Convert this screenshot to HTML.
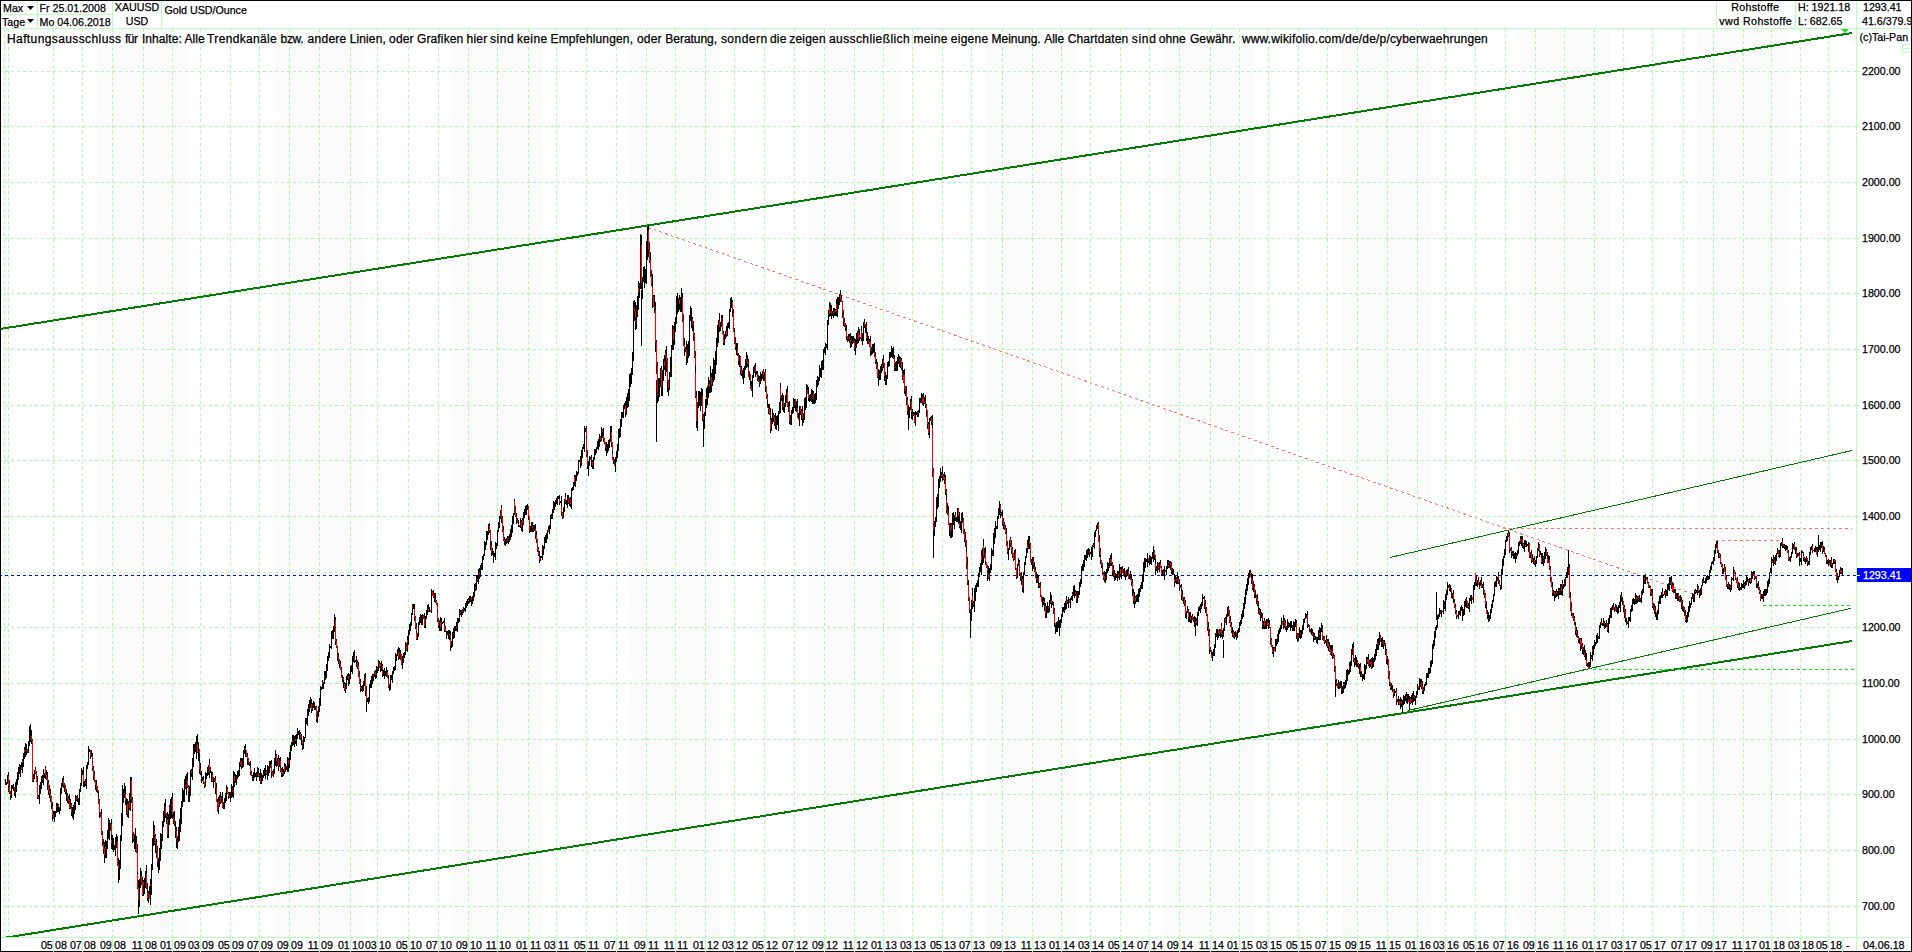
<!DOCTYPE html><html><head><meta charset="utf-8"><title>Gold USD/Ounce</title>
<style>html,body{margin:0;padding:0;background:#fff}body{width:1912px;height:952px;overflow:hidden}svg{display:block}text{font-family:"Liberation Sans",Arial,sans-serif;font-size:10.67px;fill:#000;stroke:#000;stroke-width:.25px}.b{font-size:12px}.w{fill:#fff;stroke:#fff}</style></head><body>
<svg width="1912" height="952" viewBox="0 0 1912 952">
<rect width="1912" height="952" fill="#fff"/>
<g fill="#fbfbfb" shape-rendering="crispEdges">
<rect x="3" y="29" width="6" height="908"/>
<rect x="97" y="29" width="90" height="908"/>
<rect x="275" y="29" width="89" height="908"/>
<rect x="452" y="29" width="90" height="908"/>
<rect x="629" y="29" width="91" height="908"/>
<rect x="808" y="29" width="91" height="908"/>
<rect x="986" y="29" width="90" height="908"/>
<rect x="1164" y="29" width="90" height="908"/>
<rect x="1342" y="29" width="89" height="908"/>
<rect x="1519" y="29" width="91" height="908"/>
<rect x="1697" y="29" width="90" height="908"/>
</g>
<g stroke="#a6ffa6" stroke-width="1" stroke-dasharray="3 3" shape-rendering="crispEdges" fill="none">
<path d="M4.5 29V937M8.5 29V937M53.5 29V937M82.5 29V937M112.5 29V937M143.5 29V937M172.5 29V937M200.5 29V937M230.5 29V937M259.5 29V937M289.5 29V937M319.5 29V937M350.5 29V937M377.5 29V937M408.5 29V937M438.5 29V937M468.5 29V937M497.5 29V937M528.5 29V937M556.5 29V937M586.5 29V937M616.5 29V937M646.5 29V937M675.5 29V937M705.5 29V937M734.5 29V937M764.5 29V937M794.5 29V937M824.5 29V937M854.5 29V937M883.5 29V937M912.5 29V937M942.5 29V937M971.5 29V937M1002.5 29V937M1032.5 29V937M1061.5 29V937M1090.5 29V937M1120.5 29V937M1149.5 29V937M1179.5 29V937M1210.5 29V937M1239.5 29V937M1268.5 29V937M1298.5 29V937M1327.5 29V937M1357.5 29V937M1387.5 29V937M1417.5 29V937M1445.5 29V937M1475.5 29V937M1505.5 29V937M1535.5 29V937M1564.5 29V937M1594.5 29V937M1623.5 29V937M1652.5 29V937M1683.5 29V937M1713.5 29V937M1743.5 29V937M1771.5 29V937M1800.5 29V937M1828.5 29V937"/>
<path d="M1 71.5H1856M1 126.5H1856M1 182.5H1856M1 238.5H1856M1 293.5H1856M1 349.5H1856M1 405.5H1856M1 460.5H1856M1 516.5H1856M1 572.5H1856M1 627.5H1856M1 683.5H1856M1 739.5H1856M1 794.5H1856M1 850.5H1856M1 906.5H1856" stroke-dashoffset="2"/>
</g>
<g stroke="#b9ffb9" stroke-width="1" shape-rendering="crispEdges" fill="none">
<path d="M1 28.5H1911M1 937.5H1911M1856.5 1V951M37.5 1V28M112.5 1V28M161.5 1V28M1 14.5H112M1716.5 1V28M1795.5 1V28M53.5 935V938M82.5 935V938M112.5 935V938M143.5 935V938M172.5 935V938M200.5 935V938M230.5 935V938M259.5 935V938M289.5 935V938M319.5 935V938M350.5 935V938M377.5 935V938M408.5 935V938M438.5 935V938M468.5 935V938M497.5 935V938M528.5 935V938M556.5 935V938M586.5 935V938M616.5 935V938M646.5 935V938M675.5 935V938M705.5 935V938M734.5 935V938M764.5 935V938M794.5 935V938M824.5 935V938M854.5 935V938M883.5 935V938M912.5 935V938M942.5 935V938M971.5 935V938M1002.5 935V938M1032.5 935V938M1061.5 935V938M1090.5 935V938M1120.5 935V938M1149.5 935V938M1179.5 935V938M1210.5 935V938M1239.5 935V938M1268.5 935V938M1298.5 935V938M1327.5 935V938M1357.5 935V938M1387.5 935V938M1417.5 935V938M1445.5 935V938M1475.5 935V938M1505.5 935V938M1535.5 935V938M1564.5 935V938M1594.5 935V938M1623.5 935V938M1652.5 935V938M1683.5 935V938M1713.5 935V938M1743.5 935V938M1771.5 935V938M1800.5 935V938M1828.5 935V938M1857 71.5H1860M1857 126.5H1860M1857 182.5H1860M1857 238.5H1860M1857 293.5H1860M1857 349.5H1860M1857 405.5H1860M1857 460.5H1860M1857 516.5H1860M1857 572.5H1860M1857 627.5H1860M1857 683.5H1860M1857 739.5H1860M1857 794.5H1860M1857 850.5H1860M1857 906.5H1860"/>
<rect x="1902.5" y="44.5" width="9" height="8" />
<path d="M1904 48.5H1910"/>
</g>
<path d="M1697 547.5L1788 515.5M1697 630.5L1787 597.5M1568 592.5L1620 575.5" stroke="#fff" stroke-width="1" fill="none" shape-rendering="crispEdges"/>
<clipPath id="cp"><rect x="0" y="29" width="1857" height="908"/></clipPath>
<g shape-rendering="crispEdges" fill="none" clip-path="url(#cp)">
<path d="M0 329L1852 33M5 937.75L1852 641" stroke="#007e00" stroke-width="2"/>
<path d="M1390 557.5L1852 450.5M1408 710.5L1851 608.3" stroke="#007e00" stroke-width="1"/>
<path d="M648 227.5L1694 594.5M1503 528.5H1852M1716 540.5H1782" stroke="#ff7474" stroke-width="1" stroke-dasharray="3 3"/>
<path d="M1850 605.5H1762M1854 669.5H1590" stroke="#00ee00" stroke-width="1" stroke-dasharray="3 3"/>
<path d="M1 575.5H1857" stroke="#0000ff" stroke-width="1" stroke-dasharray="3 3" stroke-dashoffset="2"/>
</g>
<path d="M1841 29h8l-4 4z" fill="#33cc33"/>
<g shape-rendering="crispEdges" fill="none" stroke-width="1">
<path d="M5.5 779V785M6.5 782V785M7.5 775V784M8.5 772V776M8.5 786V792M9.5 780V787M9.5 793V794M10.5 791V793M10.5 795V800M11.5 785V798M12.5 785V789M13.5 784V787M13.5 788V791M14.5 787V788M14.5 793V796M15.5 782V798M16.5 779V792M17.5 772V785M18.5 767V780M19.5 764V774M20.5 765V777M21.5 762V767M21.5 769V770M22.5 759V761M22.5 763V773M23.5 753V767M24.5 747V750M24.5 752V759M25.5 743V757M26.5 744V755M27.5 749V750M27.5 752V753M28.5 741V753M29.5 726V746M30.5 724V742M31.5 730V736M31.5 740V744M32.5 739V740M32.5 761V762M32.5 781V782M33.5 774V782M34.5 770V779M35.5 767V770M35.5 773V774M36.5 771V773M36.5 781V782M37.5 776V781M37.5 797V799M38.5 795V797M38.5 798V799M39.5 785V804M40.5 782V794M41.5 776V789M42.5 775V778M42.5 779V783M43.5 769V774M43.5 775V785M44.5 773V778M45.5 766V768M45.5 775V779M46.5 770V775M46.5 778V780M47.5 772V778M47.5 782V790M48.5 780V783M48.5 790V795M49.5 785V790M49.5 794V798M50.5 789V794M50.5 797V802M51.5 796V797M51.5 804V809M52.5 802V806M52.5 815V821M53.5 811V815M53.5 818V819M54.5 811V822M55.5 811V817M56.5 803V806M56.5 807V813M57.5 803V812M58.5 804V805M58.5 807V812M59.5 807V814M60.5 788V811M61.5 783V794M62.5 778V787M63.5 776V780M63.5 785V788M64.5 783V785M64.5 786V792M65.5 785V786M65.5 792V794M66.5 789V801M67.5 793V796M67.5 799V803M68.5 796V799M68.5 801V804M69.5 794V800M69.5 808V809M70.5 799V809M71.5 803V804M71.5 807V808M71.5 812V816M72.5 807V818M73.5 805V820M74.5 802V814M75.5 795V810M76.5 796V797M76.5 799V801M77.5 795V798M77.5 799V802M78.5 798V805M79.5 789V805M80.5 783V792M81.5 768V773M81.5 774V786M82.5 770V775M83.5 767V774M83.5 782V787M84.5 781V787M85.5 779V782M85.5 784V786M86.5 765V789M87.5 762V769M88.5 746V765M89.5 749V752M90.5 750V751M90.5 754V755M90.5 756V759M91.5 750V757M92.5 753V756M92.5 761V763M92.5 768V771M93.5 766V768M93.5 775V780M94.5 771V775M94.5 781V782M95.5 780V781M95.5 785V790M96.5 780V785M96.5 788V792M97.5 786V788M97.5 791V793M98.5 790V791M98.5 792V798M98.5 801V804M99.5 799V801M99.5 813V818M100.5 812V813M100.5 814V817M101.5 809V814M101.5 833V835M102.5 831V833M102.5 843V846M103.5 839V844M103.5 849V854M104.5 842V849M104.5 855V863M105.5 840V847M105.5 849V858M106.5 841V858M107.5 830V849M108.5 818V839M109.5 820V840M110.5 823V831M111.5 819V824M111.5 834V840M111.5 843V849M112.5 835V850M113.5 838V852M114.5 845V850M115.5 837V856M116.5 834V848M117.5 836V842M117.5 865V866M118.5 858V865M118.5 868V883M119.5 860V880M120.5 835V869M121.5 813V841M122.5 785V826M123.5 789V803M124.5 783V793M124.5 794V798M125.5 786V794M125.5 800V805M126.5 798V815M127.5 799V804M127.5 814V817M128.5 801V818M129.5 793V802M129.5 808V810M130.5 777V811M131.5 777V780M131.5 799V803M132.5 797V799M132.5 809V811M132.5 834V843M133.5 832V834M133.5 839V842M134.5 834V849M135.5 828V852M136.5 836V843M136.5 852V853M137.5 844V852M137.5 872V874M137.5 888V889M138.5 880V888M138.5 900V914M139.5 879V907M140.5 868V888M141.5 871V876M141.5 882V885M142.5 877V882M142.5 895V896M143.5 880V882M143.5 885V896M144.5 878V894M145.5 871V888M146.5 865V874M146.5 887V889M147.5 883V887M147.5 889V892M147.5 898V901M148.5 891V903M149.5 886V894M150.5 879V885M150.5 886V905M151.5 864V895M152.5 838V870M153.5 821V846M154.5 825V831M154.5 835V845M155.5 834V836M155.5 844V853M156.5 839V845M156.5 851V858M157.5 846V851M157.5 862V867M158.5 858V873M159.5 848V870M160.5 833V861M161.5 834V849M162.5 821V841M163.5 811V827M164.5 803V822M165.5 799V807M165.5 815V818M166.5 813V815M166.5 816V824M167.5 812V816M167.5 817V819M167.5 835V838M168.5 814V838M169.5 805V807M169.5 810V825M170.5 799V819M171.5 797V818M172.5 793V799M172.5 815V819M173.5 812V817M173.5 821V824M174.5 811V821M174.5 824V826M175.5 821V830M175.5 831V838M176.5 827V831M176.5 839V848M177.5 836V840M177.5 841V849M178.5 827V842M179.5 819V841M180.5 808V832M181.5 801V824M182.5 788V807M183.5 790V802M184.5 779V802M185.5 776V785M185.5 787V789M186.5 774V795M187.5 772V780M187.5 787V788M188.5 785V787M188.5 791V802M189.5 786V802M190.5 770V796M191.5 769V771M191.5 773V777M192.5 758V780M193.5 744V767M194.5 744V754M195.5 742V748M195.5 749V752M196.5 736V759M197.5 734V744M197.5 752V753M198.5 742V761M199.5 749V750M199.5 753V763M199.5 769V774M200.5 763V769M200.5 773V775M201.5 771V778M201.5 779V783M202.5 777V781M203.5 776V780M203.5 782V784M204.5 786V788M205.5 772V787M206.5 773V779M207.5 767V776M208.5 765V775M209.5 759V764M209.5 772V778M210.5 767V773M211.5 772V782M212.5 772V775M212.5 781V782M213.5 777V788M214.5 778V782M215.5 776V779M215.5 788V794M216.5 783V788M216.5 794V795M217.5 799V802M218.5 797V802M218.5 806V814M219.5 795V807M220.5 792V797M220.5 802V804M221.5 796V803M222.5 792V801M222.5 807V808M223.5 802V807M223.5 808V809M224.5 798V809M225.5 793V803M226.5 785V801M227.5 787V789M227.5 793V794M228.5 792V793M228.5 796V799M229.5 792V796M229.5 797V798M230.5 792V802M231.5 784V798M232.5 786V790M232.5 792V797M233.5 771V798M234.5 772V776M234.5 781V787M235.5 774V783M236.5 775V785M237.5 771V779M238.5 770V777M239.5 762V776M240.5 758V763M240.5 764V767M241.5 758V761M241.5 766V769M242.5 758V768M243.5 750V767M244.5 746V754M245.5 744V748M245.5 750V757M246.5 756V757M247.5 753V756M247.5 759V765M248.5 758V759M248.5 763V765M249.5 762V763M249.5 764V766M250.5 761V768M250.5 772V775M251.5 771V772M251.5 775V776M252.5 775V781M253.5 772V781M254.5 768V778M255.5 773V777M256.5 772V774M256.5 775V781M257.5 767V777M258.5 768V773M258.5 776V777M259.5 773V781M260.5 769V778M260.5 782V784M261.5 773V784M262.5 775V781M263.5 770V778M264.5 768V776M265.5 765V779M266.5 770V771M266.5 774V775M267.5 765V780M268.5 766V776M269.5 761V773M270.5 761V768M271.5 760V764M271.5 772V778M272.5 771V772M273.5 769V777M274.5 758V774M275.5 750V766M276.5 754V755M276.5 761V767M277.5 758V766M278.5 755V759M278.5 766V771M279.5 758V767M280.5 757V761M280.5 766V768M280.5 770V772M281.5 768V770M281.5 773V777M282.5 767V772M282.5 774V777M283.5 769V776M284.5 763V766M284.5 771V774M285.5 764V772M286.5 766V770M287.5 757V772M288.5 758V760M288.5 764V772M289.5 752V768M290.5 745V760M291.5 742V751M292.5 735V741M292.5 742V746M293.5 735V745M294.5 736V747M295.5 735V739M295.5 741V744M296.5 734V746M297.5 728V739M298.5 731V735M299.5 730V739M300.5 732V734M300.5 738V740M301.5 734V745M302.5 744V750M303.5 736V749M304.5 737V742M305.5 718V738M306.5 718V724M307.5 709V726M308.5 704V716M309.5 700V712M310.5 697V708M311.5 699V704M311.5 709V713M312.5 703V711M313.5 701V705M313.5 706V708M314.5 702V710M315.5 706V707M315.5 708V710M316.5 706V707M316.5 715V716M316.5 719V722M317.5 711V723M318.5 706V717M319.5 698V712M320.5 686V706M321.5 687V690M322.5 680V682M322.5 684V689M323.5 682V689M324.5 671V676M324.5 677V684M325.5 671V680M326.5 664V669M326.5 670V678M327.5 656V671M328.5 652V661M329.5 644V658M330.5 646V648M331.5 631V649M332.5 630V639M333.5 626V639M334.5 614V632M335.5 617V620M335.5 627V628M335.5 641V645M336.5 639V641M336.5 647V648M337.5 646V647M337.5 653V655M337.5 657V661M338.5 653V657M338.5 660V664M339.5 659V661M339.5 664V668M340.5 661V664M340.5 669V670M341.5 667V669M341.5 671V673M342.5 675V682M343.5 677V678M343.5 680V688M344.5 682V684M344.5 690V691M345.5 683V693M346.5 676V689M347.5 674V680M348.5 673V676M348.5 679V686M349.5 674V684M350.5 666V679M351.5 665V672M352.5 656V674M353.5 652V662M354.5 650V657M354.5 661V663M355.5 660V662M356.5 656V667M357.5 660V663M357.5 666V669M358.5 662V665M358.5 675V677M359.5 671V675M359.5 683V684M360.5 679V683M360.5 684V687M360.5 688V692M361.5 686V688M361.5 690V691M362.5 685V692M363.5 681V691M364.5 674V686M365.5 673V678M365.5 691V696M366.5 686V691M366.5 700V712M367.5 698V702M368.5 697V704M369.5 684V702M370.5 680V688M371.5 676V688M372.5 674V684M373.5 674V675M373.5 676V681M374.5 671V677M375.5 670V672M375.5 675V679M376.5 666V678M377.5 667V668M377.5 669V673M378.5 660V663M378.5 664V671M379.5 661V664M379.5 667V668M380.5 663V664M380.5 666V672M381.5 661V671M382.5 664V666M382.5 669V671M382.5 674V677M383.5 670V676M384.5 668V679M385.5 671V676M386.5 667V677M387.5 670V672M388.5 675V679M388.5 687V688M389.5 684V691M390.5 675V690M391.5 675V680M392.5 671V683M393.5 667V674M394.5 666V671M395.5 653V670M396.5 654V661M397.5 649V656M398.5 647V652M398.5 658V660M399.5 648V653M399.5 654V659M400.5 650V654M400.5 655V660M401.5 654V655M401.5 664V665M402.5 656V669M403.5 653V663M404.5 652V658M405.5 642V655M406.5 643V644M406.5 650V651M407.5 636V640M407.5 642V652M408.5 630V645M409.5 624V635M410.5 622V631M411.5 613V626M412.5 604V606M412.5 608V615M413.5 604V609M414.5 604V609M414.5 617V621M415.5 616V617M415.5 627V629M416.5 623V627M416.5 631V633M416.5 639V640M417.5 633V640M418.5 622V637M419.5 617V625M420.5 614V618M420.5 619V623M421.5 615V625M422.5 614V625M423.5 615V616M423.5 618V619M424.5 613V618M424.5 626V628M425.5 616V628M426.5 610V619M427.5 605V615M428.5 604V609M428.5 611V612M429.5 607V612M431.5 589V613M432.5 591V592M433.5 590V594M433.5 597V598M434.5 593V597M434.5 598V602M435.5 593V599M435.5 601V603M436.5 600V601M436.5 604V605M437.5 603V604M437.5 610V612M437.5 619V622M438.5 618V619M438.5 625V628M439.5 620V631M440.5 617V622M440.5 628V631M441.5 618V631M442.5 622V624M443.5 621V623M444.5 618V622M444.5 623V626M444.5 629V632M445.5 626V629M445.5 631V632M446.5 631V639M447.5 631V633M447.5 634V635M448.5 630V639M449.5 630V634M449.5 635V640M450.5 631V635M450.5 638V640M450.5 646V651M451.5 641V648M452.5 632V647M453.5 628V639M454.5 626V638M455.5 626V631M456.5 622V627M456.5 628V631M457.5 618V632M458.5 618V623M459.5 609V622M460.5 610V612M460.5 613V615M461.5 610V617M462.5 609V610M462.5 612V615M463.5 607V609M463.5 610V613M464.5 608V611M465.5 603V612M466.5 601V608M467.5 599V606M468.5 598V600M468.5 601V604M469.5 596V603M470.5 596V602M471.5 600V606M472.5 596V604M473.5 592V601M474.5 584V597M475.5 583V587M475.5 588V591M476.5 575V590M477.5 575V579M477.5 581V582M478.5 569V584M479.5 568V572M479.5 575V579M480.5 565V577M481.5 563V570M482.5 556V570M483.5 554V560M484.5 541V556M485.5 542V550M486.5 531V545M487.5 531V540M488.5 524V535M489.5 523V526M489.5 531V533M490.5 530V531M490.5 542V545M490.5 546V550M491.5 541V546M491.5 553V556M492.5 548V555M493.5 551V563M494.5 553V557M495.5 542V560M496.5 543V549M497.5 530V546M498.5 522V532M499.5 516V528M500.5 510V519M501.5 505V508M501.5 518V523M502.5 516V518M502.5 530V532M503.5 526V530M503.5 534V535M503.5 540V541M504.5 537V540M504.5 541V545M505.5 539V546M506.5 538V544M507.5 536V539M507.5 541V543M508.5 536V538M508.5 539V544M509.5 534V542M510.5 529V540M511.5 525V537M512.5 516V533M513.5 513V524M514.5 499V501M514.5 509V515M515.5 506V509M515.5 516V517M516.5 513V516M516.5 518V519M516.5 520V524M517.5 518V520M517.5 522V523M518.5 520V524M518.5 525V527M519.5 526V527M520.5 518V528M521.5 520V522M521.5 527V531M522.5 518V520M522.5 523V532M523.5 512V525M524.5 509V518M525.5 506V515M526.5 505V515M527.5 504V510M528.5 506V507M528.5 516V520M529.5 523V524M529.5 531V533M530.5 526V532M531.5 522V532M532.5 522V526M532.5 528V532M533.5 525V529M533.5 530V532M534.5 525V531M535.5 524V529M535.5 533V534M535.5 535V539M536.5 531V535M536.5 540V543M537.5 539V540M537.5 545V546M537.5 550V552M538.5 547V550M538.5 555V556M539.5 551V557M539.5 560V563M540.5 556V561M541.5 556V558M542.5 545V549M542.5 550V560M543.5 546V555M544.5 537V549M545.5 535V543M546.5 533V543M547.5 530V539M548.5 526V530M549.5 525V534M550.5 515V529M551.5 514V519M552.5 509V519M553.5 501V513M554.5 502V510M555.5 500V507M556.5 498V504M557.5 496V505M558.5 496V499M559.5 495V499M559.5 503V505M560.5 501V503M561.5 496V506M561.5 513V516M562.5 512V513M562.5 517V519M563.5 507V518M564.5 499V512M565.5 493V497M565.5 502V504M566.5 500V505M567.5 495V508M568.5 495V499M568.5 503V504M569.5 498V506M570.5 497V499M570.5 504V507M571.5 488V509M572.5 487V491M573.5 482V490M574.5 475V477M574.5 482V486M575.5 475V487M576.5 471V481M577.5 472V476M578.5 460V474M579.5 460V462M580.5 456V460M580.5 463V468M581.5 450V466M582.5 447V458M583.5 444V449M584.5 426V452M585.5 428V432M586.5 426V428M586.5 436V439M586.5 455V457M587.5 450V455M587.5 466V469M588.5 461V476M589.5 456V466M590.5 457V460M591.5 455V458M591.5 460V467M592.5 460V462M592.5 466V469M593.5 457V469M594.5 449V460M595.5 449V455M596.5 447V453M597.5 441V449M598.5 439V450M599.5 434V447M600.5 436V437M600.5 440V442M601.5 427V441M602.5 429V430M602.5 432V438M603.5 428V436M603.5 439V442M604.5 438V439M604.5 443V444M605.5 442V443M605.5 448V451M606.5 442V456M607.5 444V453M608.5 440V451M609.5 439V448M610.5 426V442M611.5 426V432M611.5 443V447M612.5 442V443M612.5 451V454M613.5 457V460M613.5 461V464M614.5 459V463M615.5 457V472M616.5 451V462M617.5 444V458M618.5 429V451M619.5 428V438M620.5 419V437M621.5 412V427M622.5 412V418M623.5 405V418M624.5 403V409M625.5 401V406M625.5 412V417M626.5 397V415M627.5 393V408M628.5 389V407M629.5 374V401M630.5 373V387M631.5 368V384M632.5 352V375M633.5 301V361M634.5 300V308M634.5 311V321M635.5 302V311M635.5 317V320M635.5 322V330M636.5 305V329M637.5 296V317M638.5 281V288M638.5 292V310M639.5 283V298M640.5 234V289M641.5 235V245M641.5 283V289M641.5 290V346M642.5 277V299M643.5 267V282M644.5 266V288M645.5 269V283M646.5 241V284M647.5 227V260M648.5 225V231M648.5 250V257M649.5 242V250M649.5 260V263M650.5 252V260M650.5 272V273M650.5 276V277M651.5 270V276M651.5 284V286M652.5 274V287M652.5 297V308M653.5 295V297M653.5 306V307M654.5 295V306M654.5 308V313M655.5 302V310M655.5 342V352M656.5 340V342M656.5 366V374M656.5 380V442M657.5 362V366M657.5 393V394M657.5 395V403M658.5 378V401M659.5 378V397M660.5 368V387M661.5 366V369M661.5 387V396M662.5 370V396M663.5 359V381M664.5 355V361M664.5 366V370M665.5 350V353M665.5 356V376M666.5 346V356M666.5 361V372M667.5 358V361M667.5 362V363M667.5 382V392M668.5 380V382M668.5 388V396M669.5 372V390M670.5 357V377M671.5 345V377M672.5 325V350M673.5 326V329M673.5 340V350M674.5 322V345M675.5 317V332M676.5 296V324M677.5 293V314M678.5 298V312M679.5 295V299M679.5 304V310M680.5 297V312M681.5 288V312M682.5 293V298M682.5 319V322M683.5 314V319M683.5 345V346M684.5 338V345M684.5 349V356M685.5 347V349M685.5 350V352M686.5 341V350M686.5 357V365M687.5 344V363M688.5 341V358M689.5 315V356M690.5 306V321M691.5 308V328M692.5 317V319M692.5 324V331M693.5 321V324M693.5 325V331M693.5 335V341M694.5 333V335M694.5 356V358M695.5 351V356M695.5 365V373M695.5 396V398M696.5 391V396M696.5 421V428M697.5 402V431M698.5 391V408M699.5 391V406M700.5 392V411M701.5 388V406M702.5 389V396M702.5 417V421M703.5 414V417M703.5 420V447M704.5 412V429M705.5 399V416M706.5 388V397M706.5 399V408M707.5 386V405M708.5 377V398M709.5 380V384M709.5 387V393M710.5 366V393M711.5 373V377M711.5 385V392M712.5 369V386M713.5 358V382M714.5 360V380M715.5 351V374M716.5 338V365M717.5 325V347M718.5 320V343M719.5 313V321M719.5 327V332M720.5 322V331M721.5 315V318M721.5 321V327M722.5 315V321M722.5 333V334M723.5 331V333M723.5 343V345M724.5 334V345M725.5 331V339M726.5 326V331M726.5 335V337M727.5 323V336M728.5 322V328M729.5 309V329M730.5 298V312M731.5 297V308M732.5 300V302M732.5 311V317M733.5 309V313M734.5 328V332M734.5 343V344M735.5 337V343M735.5 347V350M736.5 343V355M737.5 343V349M737.5 354V356M738.5 353V355M738.5 361V365M739.5 355V367M740.5 356V357M740.5 366V367M740.5 370V375M741.5 366V370M741.5 374V376M742.5 370V377M742.5 378V379M743.5 368V384M744.5 366V378M745.5 359V370M746.5 352V358M746.5 361V368M747.5 355V361M747.5 364V367M748.5 359V368M749.5 371V380M750.5 374V375M750.5 380V386M750.5 387V389M751.5 381V387M751.5 390V391M752.5 375V397M753.5 367V378M754.5 365V373M755.5 363V367M755.5 372V377M756.5 371V375M757.5 371V374M757.5 379V381M758.5 375V379M758.5 381V382M759.5 376V381M759.5 383V387M760.5 372V384M761.5 374V381M762.5 371V379M763.5 369V370M763.5 375V381M764.5 372V381M765.5 369V372M765.5 382V383M765.5 387V392M766.5 386V387M766.5 397V399M767.5 394V397M767.5 400V406M768.5 404V408M768.5 409V414M769.5 404V409M769.5 414V415M770.5 408V414M770.5 416V420M770.5 429V433M771.5 418V431M772.5 409V424M773.5 413V415M773.5 417V422M774.5 415V417M774.5 422V423M774.5 424V426M775.5 413V429M776.5 416V430M777.5 415V425M778.5 411V431M779.5 402V414M780.5 383V388M780.5 398V413M781.5 395V401M782.5 393V410M783.5 395V401M783.5 407V412M784.5 403V413M785.5 395V407M786.5 389V403M787.5 386V392M787.5 406V407M788.5 402V412M789.5 401V406M789.5 421V424M790.5 415V421M790.5 422V425M791.5 410V425M792.5 407V414M793.5 398V413M794.5 399V408M795.5 399V400M795.5 401V402M795.5 405V411M796.5 401V412M797.5 399V408M797.5 417V418M798.5 413V417M799.5 406V426M800.5 406V407M800.5 411V415M801.5 409V411M801.5 414V420M802.5 406V412M802.5 419V426M803.5 413V423M804.5 398V420M805.5 397V410M806.5 384V408M807.5 385V390M808.5 387V394M808.5 398V401M809.5 395V402M810.5 394V401M811.5 389V402M812.5 390V404M813.5 391V394M813.5 399V404M814.5 394V404M815.5 393V403M816.5 380V400M817.5 376V387M818.5 377V385M819.5 365V381M820.5 368V377M821.5 361V378M822.5 360V370M823.5 349V370M824.5 347V353M825.5 343V355M826.5 344V348M827.5 320V350M828.5 310V325M829.5 302V307M829.5 314V317M830.5 303V316M831.5 305V311M831.5 313V319M832.5 311V316M833.5 308V311M833.5 313V318M834.5 308V316M835.5 309V310M835.5 312V316M836.5 299V304M836.5 311V316M837.5 297V317M838.5 297V309M839.5 294V305M840.5 290V295M840.5 300V302M841.5 295V300M842.5 301V302M842.5 313V318M843.5 310V314M843.5 321V326M844.5 318V322M844.5 325V327M845.5 323V325M845.5 328V331M846.5 325V330M846.5 336V340M847.5 339V342M848.5 334V341M849.5 334V337M849.5 340V343M850.5 333V340M850.5 343V348M851.5 336V347M852.5 336V344M853.5 336V341M853.5 342V343M854.5 338V341M854.5 348V351M855.5 339V355M856.5 333V348M857.5 331V344M858.5 327V332M858.5 339V343M859.5 329V335M859.5 337V341M860.5 338V339M861.5 326V331M861.5 338V341M862.5 333V345M863.5 322V341M864.5 319V323M864.5 325V328M865.5 324V325M865.5 327V333M866.5 322V327M866.5 328V333M866.5 338V341M867.5 332V344M868.5 336V337M868.5 338V340M868.5 342V344M869.5 339V342M869.5 346V347M870.5 336V342M870.5 350V356M871.5 347V350M871.5 351V355M872.5 344V354M873.5 344V353M874.5 343V347M874.5 348V352M874.5 355V357M875.5 352V355M875.5 362V364M876.5 359V363M876.5 366V369M877.5 362V366M877.5 377V378M878.5 369V386M879.5 370V374M879.5 375V380M880.5 366V380M881.5 364V373M882.5 359V365M882.5 367V371M883.5 355V360M883.5 364V368M884.5 363V364M884.5 376V381M885.5 372V378M885.5 379V385M886.5 375V385M887.5 362V379M888.5 361V367M889.5 352V366M890.5 352V358M891.5 346V357M892.5 348V358M893.5 347V357M893.5 358V359M894.5 355V358M894.5 365V371M895.5 362V367M895.5 368V371M896.5 361V371M897.5 357V371M898.5 354V364M899.5 356V359M899.5 361V367M900.5 357V359M900.5 360V368M901.5 358V360M901.5 368V370M902.5 362V373M902.5 375V380M903.5 370V375M903.5 382V383M904.5 369V375M904.5 388V394M905.5 386V388M905.5 391V396M906.5 386V391M906.5 398V399M906.5 400V405M907.5 397V400M907.5 411V415M908.5 405V430M909.5 407V418M910.5 399V410M911.5 396V401M911.5 412V419M912.5 409V414M912.5 415V420M913.5 412V416M914.5 412V414M914.5 422V423M915.5 411V426M916.5 412V415M917.5 411V417M918.5 410V412M918.5 413V417M919.5 398V413M920.5 398V403M921.5 393V403M922.5 394V399M922.5 403V405M923.5 393V397M923.5 403V406M924.5 397V404M925.5 395V404M925.5 405V408M926.5 404V405M926.5 411V417M927.5 410V411M927.5 419V420M927.5 424V429M928.5 422V424M928.5 433V435M929.5 418V438M930.5 417V421M931.5 416V418M931.5 422V425M932.5 415V422M932.5 423V428M932.5 471V477M933.5 468V471M933.5 530V558M934.5 521V536M935.5 517V527M936.5 497V522M937.5 494V509M938.5 479V507M939.5 476V488M940.5 468V482M941.5 472V475M941.5 476V478M942.5 466V474M942.5 476V481M943.5 474V476M943.5 479V480M944.5 472V477M944.5 480V484M945.5 475V480M945.5 490V495M946.5 489V490M946.5 493V500M946.5 510V513M947.5 503V510M947.5 513V515M948.5 506V513M948.5 524V525M949.5 523V524M949.5 526V536M950.5 523V527M950.5 531V538M951.5 523V525M951.5 529V538M952.5 513V537M953.5 512V525M954.5 515V529M955.5 512V515M955.5 518V521M956.5 517V522M957.5 508V522M958.5 508V509M958.5 516V524M959.5 512V523M959.5 527V528M960.5 521V530M961.5 513V533M962.5 512V523M963.5 518V519M963.5 533V534M964.5 529V532M964.5 538V542M965.5 532V538M965.5 541V547M966.5 540V541M966.5 547V552M966.5 565V569M967.5 557V565M967.5 583V585M968.5 580V585M968.5 599V601M969.5 597V599M969.5 610V613M970.5 609V610M970.5 612V638M971.5 600V621M972.5 588V596M972.5 603V609M973.5 601V603M973.5 604V607M974.5 588V612M975.5 585V601M976.5 583V592M977.5 580V587M978.5 573V587M979.5 567V577M980.5 563V572M981.5 550V556M981.5 560V575M982.5 548V565M983.5 539V546M983.5 556V563M984.5 548V558M985.5 547V553M985.5 561V565M986.5 567V568M987.5 565V567M987.5 571V573M987.5 574V581M988.5 566V574M988.5 578V579M989.5 568V581M990.5 564V573M991.5 548V570M992.5 550V554M992.5 555V556M993.5 533V556M994.5 528V544M995.5 521V538M996.5 526V529M997.5 516V529M998.5 508V519M999.5 501V515M1000.5 504V505M1000.5 510V513M1000.5 514V518M1001.5 512V516M1002.5 510V516M1002.5 521V526M1003.5 518V521M1003.5 524V529M1004.5 522V524M1004.5 525V526M1004.5 527V530M1005.5 525V527M1005.5 533V534M1006.5 528V533M1006.5 544V546M1007.5 541V544M1007.5 552V554M1008.5 548V560M1009.5 540V550M1010.5 537V539M1010.5 545V547M1011.5 540V545M1011.5 549V554M1012.5 547V549M1012.5 555V558M1013.5 553V554M1013.5 559V561M1014.5 550V560M1015.5 549V553M1015.5 568V570M1016.5 577V579M1017.5 564V578M1018.5 558V566M1019.5 560V562M1019.5 567V568M1019.5 574V576M1020.5 573V574M1020.5 577V581M1021.5 572V585M1022.5 576V579M1022.5 588V592M1023.5 572V593M1024.5 562V575M1025.5 556V565M1026.5 548V558M1027.5 540V545M1027.5 548V553M1028.5 536V549M1029.5 536V541M1029.5 544V549M1030.5 543V544M1030.5 551V553M1030.5 561V562M1031.5 559V561M1031.5 562V565M1032.5 557V571M1033.5 557V561M1033.5 565V569M1034.5 562V567M1034.5 571V572M1035.5 567V571M1035.5 577V578M1036.5 572V578M1036.5 579V583M1037.5 574V583M1038.5 575V578M1038.5 582V588M1039.5 583V584M1039.5 586V588M1040.5 582V586M1040.5 596V597M1041.5 595V596M1042.5 597V607M1043.5 597V601M1043.5 602V605M1044.5 598V602M1044.5 603V611M1045.5 603V606M1045.5 614V618M1046.5 606V618M1047.5 602V613M1048.5 606V607M1048.5 608V613M1049.5 600V612M1050.5 592V604M1051.5 595V600M1051.5 603V608M1052.5 601V605M1053.5 602V603M1053.5 604V606M1053.5 610V614M1054.5 608V610M1054.5 623V627M1055.5 625V634M1056.5 622V632M1057.5 621V632M1058.5 617V628M1059.5 620V636M1060.5 619V628M1061.5 614V623M1062.5 607V617M1063.5 607V612M1064.5 603V613M1065.5 601V610M1066.5 596V601M1066.5 603V609M1067.5 600V604M1068.5 597V608M1069.5 599V600M1069.5 602V603M1070.5 598V608M1071.5 596V600M1072.5 592V594M1072.5 595V601M1073.5 586V596M1074.5 585V598M1075.5 590V592M1075.5 594V596M1076.5 591V595M1076.5 599V603M1077.5 591V603M1078.5 591V598M1079.5 582V595M1080.5 579V587M1081.5 566V584M1082.5 564V571M1083.5 560V571M1084.5 555V567M1085.5 555V560M1086.5 550V561M1087.5 549V558M1088.5 548V555M1089.5 549V551M1089.5 553V557M1090.5 552V554M1091.5 547V560M1092.5 545V557M1093.5 543V545M1093.5 546V547M1094.5 532V549M1095.5 530V537M1096.5 525V531M1097.5 523V529M1098.5 522V524M1098.5 531V534M1098.5 541V542M1099.5 535V541M1099.5 551V557M1100.5 548V551M1100.5 555V557M1100.5 560V564M1101.5 565V568M1102.5 563V565M1102.5 566V569M1102.5 573V575M1103.5 572V573M1103.5 578V580M1104.5 571V576M1104.5 579V582M1105.5 572V583M1106.5 569V580M1107.5 562V573M1108.5 563V566M1108.5 567V571M1109.5 558V568M1110.5 555V559M1110.5 562V566M1111.5 553V559M1111.5 563V566M1112.5 562V563M1112.5 571V576M1113.5 565V570M1113.5 573V577M1114.5 570V573M1114.5 576V581M1115.5 573V580M1116.5 574V578M1117.5 571V581M1118.5 571V574M1118.5 577V578M1119.5 564V580M1120.5 567V569M1120.5 574V577M1121.5 567V579M1122.5 566V569M1122.5 572V573M1123.5 569V573M1123.5 575V576M1124.5 568V577M1125.5 575V580M1126.5 570V577M1127.5 569V576M1128.5 567V571M1128.5 578V579M1129.5 574V579M1130.5 571V578M1130.5 579V580M1131.5 574V579M1131.5 583V586M1132.5 579V583M1132.5 589V596M1133.5 589V593M1133.5 601V604M1134.5 592V608M1135.5 596V597M1135.5 601V604M1136.5 595V602M1137.5 594V602M1138.5 589V602M1139.5 588V597M1140.5 585V592M1141.5 582V589M1142.5 574V589M1143.5 562V582M1144.5 558V572M1145.5 558V568M1146.5 559V562M1147.5 553V567M1148.5 561V563M1149.5 555V565M1150.5 556V564M1151.5 557V565M1152.5 552V559M1153.5 546V562M1154.5 550V551M1154.5 556V560M1155.5 555V556M1155.5 559V564M1155.5 569V575M1156.5 566V569M1156.5 570V571M1157.5 562V573M1158.5 563V564M1158.5 569V570M1159.5 562V572M1160.5 560V563M1161.5 566V568M1161.5 574V576M1162.5 570V576M1163.5 569V573M1163.5 574V575M1164.5 566V580M1165.5 570V571M1166.5 566V575M1167.5 560V569M1168.5 560V562M1168.5 563V565M1168.5 567V568M1169.5 561V568M1170.5 561V562M1170.5 565V570M1171.5 562V566M1171.5 570V574M1172.5 568V570M1172.5 571V575M1173.5 569V574M1174.5 574V579M1174.5 582V587M1175.5 576V583M1176.5 577V579M1176.5 581V584M1177.5 572V578M1177.5 579V584M1178.5 576V579M1178.5 583V584M1179.5 579V585M1179.5 587V591M1180.5 585V587M1181.5 584V587M1181.5 588V591M1181.5 595V600M1182.5 590V595M1182.5 600V601M1183.5 597V604M1184.5 597V599M1184.5 603V606M1185.5 600V603M1185.5 614V618M1186.5 611V619M1187.5 606V610M1187.5 611V613M1188.5 609V611M1188.5 617V622M1189.5 612V622M1190.5 612V617M1190.5 620V623M1191.5 616V623M1192.5 614V616M1192.5 619V620M1193.5 617V619M1193.5 620V622M1194.5 616V627M1195.5 617V621M1195.5 623V636M1196.5 618V621M1196.5 623V625M1197.5 612V626M1198.5 607V616M1199.5 606V611M1200.5 604V607M1200.5 608V613M1201.5 602V609M1202.5 594V606M1203.5 597V599M1204.5 596V598M1204.5 603V609M1205.5 600V604M1205.5 609V613M1206.5 607V609M1206.5 615V616M1207.5 614V615M1207.5 627V631M1208.5 622V627M1208.5 631V636M1209.5 629V631M1209.5 640V641M1209.5 649V654M1210.5 647V649M1210.5 650V652M1211.5 652V654M1212.5 652V661M1213.5 649V656M1214.5 644V656M1215.5 633V648M1216.5 629V637M1217.5 629V640M1218.5 630V631M1218.5 633V638M1219.5 629V631M1219.5 634V636M1220.5 629V638M1221.5 623V626M1221.5 634V637M1222.5 630V634M1222.5 635V639M1223.5 628V637M1223.5 640V658M1224.5 618V631M1225.5 617V619M1226.5 614V625M1227.5 607V617M1228.5 606V609M1228.5 612V616M1229.5 610V612M1229.5 622V623M1230.5 616V621M1230.5 625V627M1231.5 622V625M1231.5 631V633M1232.5 627V637M1233.5 630V632M1233.5 637V638M1234.5 632V639M1235.5 631V637M1236.5 634V640M1237.5 630V638M1238.5 628V633M1239.5 622V632M1240.5 620V626M1241.5 614V624M1242.5 610V619M1243.5 603V617M1244.5 597V609M1245.5 589V604M1246.5 584V595M1247.5 578V591M1248.5 573V585M1249.5 570V578M1250.5 570V573M1251.5 573V578M1251.5 580V584M1252.5 574V580M1252.5 588V590M1253.5 581V586M1253.5 587V592M1254.5 584V587M1254.5 595V598M1255.5 590V598M1256.5 595V596M1256.5 599V604M1257.5 594V599M1257.5 604V606M1258.5 601V604M1258.5 605V614M1259.5 608V610M1259.5 613V615M1260.5 609V613M1260.5 614V621M1261.5 612V618M1262.5 613V616M1262.5 620V623M1262.5 625V629M1263.5 621V629M1264.5 618V621M1264.5 626V629M1265.5 621V629M1266.5 619V629M1267.5 619V622M1267.5 625V626M1268.5 618V623M1268.5 625V629M1269.5 620V625M1269.5 627V628M1270.5 636V637M1270.5 640V645M1271.5 638V640M1271.5 646V647M1272.5 645V646M1272.5 647V649M1272.5 652V654M1273.5 647V657M1274.5 647V648M1275.5 639V652M1276.5 639V646M1277.5 634V637M1277.5 638V644M1278.5 630V642M1279.5 628V634M1280.5 625V632M1281.5 618V629M1282.5 621V622M1283.5 615V629M1284.5 618V620M1284.5 623V628M1285.5 620V623M1285.5 628V630M1286.5 626V632M1287.5 619V630M1288.5 622V624M1288.5 625V628M1289.5 623V627M1290.5 621V631M1291.5 621V628M1292.5 625V626M1292.5 627V631M1293.5 621V631M1294.5 622V631M1295.5 619V627M1296.5 620V623M1296.5 634V639M1297.5 633V634M1297.5 638V642M1298.5 633V635M1298.5 636V641M1299.5 627V638M1300.5 630V633M1300.5 634V639M1301.5 630V638M1302.5 625V634M1303.5 619V630M1304.5 618V623M1305.5 613V619M1306.5 614V618M1307.5 611V615M1307.5 622V623M1307.5 625V628M1308.5 624V625M1308.5 626V627M1309.5 625V626M1309.5 629V630M1310.5 629V632M1311.5 628V635M1312.5 629V633M1312.5 635V636M1313.5 632V635M1313.5 636V642M1314.5 633V637M1314.5 638V640M1315.5 636V640M1316.5 637V639M1316.5 640V643M1317.5 637V644M1318.5 630V640M1319.5 627V633M1319.5 635V640M1320.5 628V640M1321.5 623V632M1322.5 625V629M1322.5 631V632M1322.5 639V640M1323.5 636V639M1323.5 640V641M1324.5 636V637M1324.5 642V644M1325.5 640V643M1326.5 635V641M1326.5 642V646M1327.5 639V642M1327.5 646V648M1328.5 639V644M1328.5 647V651M1329.5 642V647M1329.5 651V652M1330.5 645V649M1330.5 654V655M1331.5 645V656M1332.5 645V651M1332.5 656V659M1333.5 653V656M1333.5 657V658M1334.5 655V656M1334.5 658V659M1334.5 668V672M1335.5 666V668M1335.5 680V697M1336.5 679V682M1336.5 684V686M1337.5 683V684M1338.5 680V689M1339.5 682V685M1339.5 686V689M1340.5 681V688M1341.5 681V687M1341.5 688V689M1341.5 690V694M1342.5 686V694M1343.5 682V684M1343.5 685V693M1344.5 682V684M1344.5 685V689M1345.5 680V688M1346.5 670V685M1347.5 669V681M1348.5 670V675M1349.5 662V666M1349.5 668V674M1350.5 661V672M1351.5 649V666M1352.5 644V655M1353.5 642V648M1353.5 655V656M1353.5 660V662M1354.5 658V660M1354.5 662V667M1355.5 655V665M1356.5 657V667M1357.5 660V661M1357.5 664V667M1358.5 663V664M1358.5 667V668M1359.5 664V674M1360.5 663V667M1360.5 672V677M1361.5 671V674M1361.5 676V677M1362.5 674V681M1363.5 674V679M1364.5 664V680M1365.5 665V674M1366.5 657V669M1367.5 657V659M1367.5 662V664M1368.5 654V660M1368.5 665V666M1369.5 660V668M1370.5 659V662M1370.5 664V667M1371.5 658V662M1371.5 667V669M1372.5 657V668M1373.5 658V667M1374.5 654V662M1375.5 649V660M1376.5 644V656M1377.5 639V643M1377.5 645V650M1378.5 638V650M1379.5 632V645M1380.5 635V637M1380.5 641V642M1381.5 638V642M1381.5 643V647M1382.5 637V647M1383.5 640V641M1383.5 644V649M1384.5 640V644M1385.5 643V655M1386.5 649V650M1386.5 660V664M1387.5 656V665M1388.5 659V660M1388.5 667V668M1388.5 675V679M1389.5 671V675M1389.5 682V686M1390.5 685V686M1390.5 688V690M1391.5 683V690M1392.5 685V692M1393.5 694V698M1394.5 689V696M1395.5 691V693M1396.5 688V691M1396.5 694V696M1396.5 701V705M1397.5 699V702M1398.5 696V705M1399.5 699V701M1399.5 704V705M1400.5 697V709M1401.5 699V701M1401.5 704V707M1402.5 700V712M1403.5 695V705M1404.5 696V704M1405.5 694V701M1406.5 692V696M1406.5 698V703M1407.5 694V704M1408.5 694V699M1409.5 696V710M1410.5 697V699M1410.5 703V704M1411.5 695V700M1411.5 701V703M1412.5 693V705M1413.5 691V696M1413.5 697V702M1414.5 695V697M1414.5 699V701M1415.5 696V705M1416.5 691V698M1417.5 684V695M1418.5 689V690M1419.5 678V690M1420.5 679V687M1421.5 679V682M1421.5 686V689M1422.5 681V685M1422.5 691V694M1423.5 687V694M1424.5 684V691M1425.5 682V686M1426.5 673V685M1427.5 673V678M1428.5 668V678M1429.5 668V674M1430.5 661V673M1431.5 660V667M1432.5 644V664M1433.5 640V649M1434.5 631V646M1435.5 627V638M1436.5 592V620M1436.5 625V630M1437.5 615V628M1438.5 614V619M1439.5 608V617M1440.5 610V612M1440.5 613V614M1441.5 610V617M1442.5 611V612M1443.5 600V614M1444.5 601V605M1444.5 606V609M1445.5 594V611M1446.5 590V600M1447.5 582V595M1448.5 585V586M1448.5 587V588M1449.5 584V587M1449.5 589V591M1450.5 585V592M1451.5 588V589M1451.5 592V594M1451.5 595V598M1452.5 593V599M1453.5 590V594M1453.5 599V603M1454.5 599V602M1454.5 607V608M1455.5 604V607M1455.5 611V614M1456.5 610V612M1456.5 616V619M1457.5 615V616M1458.5 611V619M1459.5 611V615M1460.5 607V616M1461.5 605V611M1462.5 607V610M1462.5 611V621M1463.5 609V616M1464.5 601V615M1465.5 599V607M1466.5 597V599M1466.5 600V608M1467.5 606V608M1468.5 603V606M1468.5 607V609M1469.5 598V612M1470.5 595V601M1471.5 595V604M1473.5 585V603M1474.5 582V590M1475.5 579V586M1476.5 576V579M1476.5 583V586M1477.5 580V587M1478.5 577V581M1478.5 584V585M1479.5 582V589M1480.5 580V586M1481.5 577V582M1481.5 583V584M1481.5 587V588M1482.5 584V588M1483.5 582V586M1483.5 587V590M1483.5 591V595M1484.5 590V591M1484.5 595V598M1485.5 593V595M1485.5 605V608M1486.5 601V609M1487.5 610V614M1487.5 615V619M1488.5 612V622M1489.5 615V621M1490.5 609V619M1491.5 604V613M1492.5 600V608M1493.5 594V602M1494.5 582V596M1495.5 581V587M1496.5 576V587M1497.5 577V581M1498.5 572V576M1498.5 582V584M1499.5 580V582M1500.5 585V586M1500.5 587V590M1501.5 569V589M1502.5 559V575M1503.5 556V566M1504.5 549V558M1505.5 540V555M1506.5 536V542M1507.5 533V541M1508.5 531V533M1508.5 536V537M1509.5 532V536M1509.5 541V542M1509.5 550V553M1510.5 548V551M1511.5 547V549M1511.5 552V558M1512.5 551V553M1512.5 554V556M1513.5 551V559M1514.5 553V559M1515.5 552V563M1516.5 553V555M1516.5 556V559M1517.5 550V556M1518.5 542V554M1519.5 541V546M1520.5 536V539M1520.5 542V544M1521.5 536V546M1522.5 536V540M1522.5 543V548M1523.5 543V544M1523.5 546V549M1524.5 540V552M1525.5 540V545M1525.5 546V547M1526.5 541V547M1527.5 544V546M1528.5 542V552M1529.5 543V544M1529.5 556V558M1530.5 552V558M1531.5 550V553M1531.5 560V563M1532.5 554V559M1532.5 561V562M1533.5 558V564M1534.5 556V560M1534.5 563V565M1535.5 560V567M1536.5 556V564M1537.5 548V558M1538.5 542V551M1539.5 544V545M1539.5 550V552M1539.5 555V557M1540.5 551V555M1541.5 553V558M1541.5 562V564M1542.5 553V564M1543.5 556V557M1543.5 558V566M1544.5 552V563M1545.5 547V559M1546.5 549V550M1546.5 554V556M1547.5 552V554M1547.5 556V558M1547.5 562V563M1548.5 555V563M1549.5 556V560M1549.5 568V570M1550.5 566V568M1550.5 575V576M1550.5 578V582M1551.5 577V578M1551.5 586V587M1552.5 582V586M1552.5 587V590M1552.5 593V596M1553.5 590V596M1554.5 591V592M1554.5 595V601M1555.5 591V598M1556.5 589V592M1556.5 594V597M1557.5 591V596M1558.5 588V599M1559.5 588V590M1559.5 591V595M1560.5 584V595M1561.5 584V587M1561.5 591V595M1562.5 580V583M1562.5 586V596M1563.5 584V589M1564.5 579V583M1564.5 584V587M1565.5 577V586M1566.5 572V578M1567.5 567V578M1568.5 550V575M1569.5 564V568M1569.5 597V598M1570.5 592V597M1570.5 607V611M1571.5 602V607M1571.5 614V616M1572.5 613V615M1572.5 617V618M1573.5 613V616M1573.5 618V621M1574.5 616V618M1574.5 623V625M1575.5 622V626M1575.5 631V635M1576.5 627V631M1576.5 634V637M1577.5 630V635M1577.5 637V638M1578.5 636V637M1578.5 640V643M1579.5 638V644M1580.5 638V639M1580.5 646V651M1581.5 638V641M1581.5 644V649M1582.5 643V644M1582.5 649V654M1583.5 647V649M1583.5 650V655M1584.5 645V653M1584.5 656V657M1585.5 650V660M1586.5 653V659M1586.5 665V666M1587.5 663V667M1588.5 662V666M1589.5 662V668M1590.5 652V667M1591.5 655V657M1591.5 658V659M1592.5 646V650M1592.5 651V661M1593.5 645V655M1594.5 640V649M1595.5 642V646M1596.5 635V644M1597.5 633V643M1598.5 636V637M1598.5 638V639M1599.5 625V639M1600.5 622V628M1601.5 618V622M1601.5 624V625M1602.5 623V626M1603.5 618V622M1603.5 623V626M1604.5 621V623M1604.5 624V629M1605.5 623V628M1606.5 620V623M1606.5 625V627M1607.5 623V625M1607.5 626V627M1607.5 630V632M1608.5 618V633M1609.5 615V624M1610.5 608V618M1611.5 607V618M1612.5 605V610M1613.5 603V607M1614.5 607V612M1615.5 604V607M1616.5 605V609M1616.5 610V612M1617.5 607V614M1618.5 605V613M1619.5 602V608M1620.5 595V612M1621.5 592V597M1621.5 598V602M1622.5 597V601M1622.5 602V605M1623.5 601V602M1623.5 607V612M1624.5 605V607M1624.5 613V618M1625.5 609V613M1625.5 618V622M1626.5 618V625M1627.5 623V624M1628.5 617V628M1629.5 617V621M1630.5 609V622M1631.5 605V612M1632.5 599V611M1633.5 598V604M1634.5 599V605M1635.5 593V604M1636.5 595V597M1636.5 600V604M1637.5 596V603M1638.5 598V602M1639.5 595V602M1640.5 598V599M1640.5 600V602M1641.5 591V594M1641.5 595V603M1642.5 589V595M1643.5 575V593M1644.5 575V578M1644.5 580V584M1645.5 574V584M1646.5 577V578M1646.5 579V580M1647.5 577V579M1648.5 582V583M1648.5 587V588M1649.5 585V588M1650.5 586V587M1650.5 593V596M1651.5 589V593M1651.5 594V596M1652.5 589V594M1652.5 598V600M1652.5 606V608M1653.5 603V606M1653.5 607V610M1654.5 604V607M1654.5 610V614M1655.5 606V610M1655.5 612V617M1656.5 614V620M1657.5 610V620M1658.5 601V614M1659.5 596V604M1660.5 595V604M1661.5 592V598M1662.5 588V592M1662.5 595V598M1663.5 594V596M1664.5 591V595M1665.5 589V592M1665.5 595V598M1666.5 590V596M1667.5 584V596M1668.5 583V590M1669.5 577V591M1670.5 577V585M1671.5 576V581M1671.5 585V589M1672.5 582V585M1672.5 591V592M1673.5 583V586M1673.5 591V593M1674.5 589V593M1675.5 589V591M1675.5 593V594M1675.5 597V599M1676.5 593V599M1677.5 593V601M1678.5 593V594M1678.5 597V601M1679.5 596V597M1679.5 601V602M1680.5 595V602M1681.5 597V600M1681.5 604V609M1682.5 600V604M1682.5 607V611M1683.5 606V607M1683.5 609V612M1684.5 607V609M1684.5 611V613M1684.5 615V616M1685.5 610V615M1685.5 621V622M1686.5 615V623M1687.5 612V622M1688.5 606V617M1689.5 601V612M1690.5 603V608M1691.5 597V605M1692.5 593V599M1693.5 594V596M1693.5 598V602M1694.5 590V602M1695.5 589V591M1695.5 592V594M1696.5 590V593M1697.5 584V595M1698.5 586V587M1698.5 591V593M1699.5 590V592M1699.5 594V598M1700.5 588V596M1701.5 585V595M1702.5 579V586M1703.5 577V581M1703.5 582V583M1704.5 581V583M1705.5 578V584M1706.5 576V583M1707.5 575V578M1707.5 579V580M1708.5 576V580M1709.5 570V579M1710.5 566V573M1711.5 562V570M1712.5 561V564M1713.5 557V565M1714.5 550V561M1715.5 544V554M1716.5 541V548M1717.5 541V544M1717.5 551V553M1718.5 550V551M1718.5 552V558M1719.5 553V554M1719.5 557V558M1720.5 554V557M1720.5 562V564M1721.5 566V567M1722.5 564V566M1722.5 569V574M1723.5 568V574M1724.5 564V567M1724.5 571V572M1725.5 567V571M1725.5 579V580M1726.5 575V578M1726.5 586V587M1727.5 584V589M1728.5 582V585M1728.5 586V589M1729.5 584V586M1729.5 587V590M1730.5 585V587M1730.5 588V592M1731.5 577V590M1732.5 578V580M1733.5 567V581M1734.5 570V571M1735.5 572V574M1735.5 578V580M1736.5 582V583M1737.5 577V581M1737.5 585V588M1738.5 582V585M1738.5 587V590M1739.5 583V587M1739.5 588V591M1740.5 587V590M1741.5 583V590M1742.5 584V588M1743.5 580V588M1744.5 582V584M1744.5 585V589M1745.5 581V586M1746.5 576V585M1747.5 577V582M1748.5 579V580M1748.5 582V586M1749.5 578V583M1750.5 578V579M1750.5 582V584M1751.5 571V583M1752.5 572V579M1753.5 571V574M1754.5 571V574M1754.5 578V580M1755.5 576V579M1756.5 580V581M1756.5 584V588M1757.5 583V588M1758.5 581V586M1758.5 588V590M1759.5 587V588M1759.5 592V594M1760.5 590V592M1760.5 599V601M1761.5 594V599M1762.5 594V599M1763.5 591V602M1764.5 589V596M1765.5 589V596M1766.5 589V595M1767.5 581V593M1768.5 579V587M1769.5 572V584M1770.5 568V573M1771.5 557V574M1772.5 559V561M1773.5 555V559M1773.5 560V566M1774.5 557V560M1774.5 562V564M1775.5 555V565M1776.5 553V561M1777.5 548V554M1778.5 550V551M1778.5 556V557M1779.5 550V558M1780.5 543V557M1781.5 542V546M1782.5 538V541M1782.5 545V548M1783.5 544V545M1783.5 546V548M1784.5 544V546M1784.5 547V549M1785.5 545V551M1786.5 545V550M1787.5 546V549M1787.5 552V553M1788.5 550V552M1788.5 556V557M1788.5 560V561M1789.5 557V560M1790.5 556V562M1791.5 552V558M1792.5 543V554M1793.5 544V549M1794.5 542V544M1794.5 549V550M1795.5 547V554M1796.5 547V551M1796.5 556V558M1797.5 553V557M1798.5 553V556M1799.5 552V554M1799.5 558V566M1800.5 558V562M1801.5 550V565M1802.5 551V553M1803.5 552V553M1803.5 554V556M1803.5 558V561M1804.5 557V558M1804.5 559V562M1805.5 558V564M1806.5 556V558M1806.5 559V562M1807.5 558V559M1807.5 560V561M1807.5 563V566M1808.5 561V565M1809.5 552V565M1810.5 547V555M1811.5 546V550M1812.5 544V546M1812.5 551V553M1813.5 550V551M1814.5 548V552M1815.5 546V552M1816.5 547V550M1817.5 547V557M1818.5 535V552M1819.5 545V550M1820.5 542V552M1821.5 542V548M1822.5 541V545M1822.5 551V554M1823.5 546V552M1824.5 547V550M1825.5 553V554M1825.5 555V557M1826.5 561V564M1827.5 560V564M1828.5 559V566M1829.5 560V563M1830.5 560V567M1831.5 557V561M1831.5 565V568M1832.5 563V568M1833.5 559V564M1834.5 559V560M1834.5 561V564M1835.5 560V561M1835.5 562V564M1835.5 571V572M1836.5 569V571M1836.5 578V580M1837.5 573V583M1838.5 576V580M1839.5 570V577M1840.5 567V570M1840.5 572V574M1841.5 568V571M1841.5 573V574M1842.5 568V575" stroke="#000"/>
<path d="M8.5 776V786M9.5 787V793M10.5 793V795M13.5 787V788M14.5 788V793M21.5 767V769M22.5 761V763M24.5 750V752M27.5 750V752M31.5 736V740M32.5 740V761M32.5 762V781M35.5 770V773M36.5 773V781M37.5 781V797M38.5 797V798M42.5 778V779M43.5 774V775M45.5 768V775M46.5 775V778M47.5 778V782M48.5 783V790M49.5 790V794M50.5 794V797M51.5 797V804M52.5 806V815M53.5 815V818M56.5 806V807M58.5 805V807M63.5 780V785M64.5 785V786M65.5 786V792M67.5 796V799M68.5 799V801M69.5 800V808M71.5 804V807M71.5 808V812M76.5 797V799M77.5 798V799M81.5 773V774M83.5 774V782M85.5 782V784M90.5 751V754M90.5 755V756M92.5 756V761M92.5 763V768M93.5 768V775M94.5 775V781M95.5 781V785M96.5 785V788M97.5 788V791M98.5 791V792M98.5 798V801M99.5 801V813M100.5 813V814M101.5 814V833M102.5 833V843M103.5 844V849M104.5 849V855M105.5 847V849M111.5 824V834M111.5 840V843M117.5 842V865M118.5 865V868M124.5 793V794M125.5 794V800M127.5 804V814M129.5 802V808M131.5 780V799M132.5 799V809M132.5 811V834M133.5 834V839M136.5 843V852M137.5 852V872M137.5 874V888M138.5 888V900M141.5 876V882M142.5 882V895M143.5 882V885M146.5 874V887M147.5 887V889M147.5 892V898M149.5 894V899M150.5 885V886M154.5 831V835M155.5 836V844M156.5 845V851M157.5 851V862M165.5 807V815M166.5 815V816M167.5 816V817M167.5 819V835M169.5 807V810M172.5 799V815M173.5 817V821M174.5 821V824M175.5 830V831M176.5 831V839M177.5 840V841M185.5 785V787M187.5 780V787M188.5 787V791M191.5 771V773M195.5 748V749M197.5 744V752M199.5 750V753M199.5 763V769M200.5 769V773M201.5 778V779M203.5 780V782M204.5 782V786M209.5 764V772M211.5 771V772M212.5 775V781M215.5 779V788M216.5 788V794M216.5 795V802M217.5 802V812M218.5 802V806M220.5 797V802M222.5 801V807M223.5 807V808M227.5 789V793M228.5 793V796M229.5 796V797M232.5 790V792M234.5 776V781M240.5 763V764M241.5 761V766M245.5 748V750M246.5 750V756M247.5 756V759M248.5 759V763M249.5 763V764M250.5 768V772M251.5 772V775M256.5 774V775M258.5 773V776M260.5 778V782M266.5 771V774M271.5 764V772M272.5 772V776M276.5 755V761M278.5 759V766M280.5 761V766M280.5 768V770M281.5 770V773M282.5 772V774M284.5 766V771M288.5 760V764M292.5 741V742M295.5 739V741M300.5 734V738M302.5 740V744M311.5 704V709M313.5 705V706M315.5 707V708M316.5 707V715M316.5 716V719M322.5 682V684M324.5 676V677M326.5 669V670M335.5 620V627M335.5 628V641M336.5 641V647M337.5 647V653M337.5 655V657M338.5 657V660M339.5 661V664M340.5 664V669M341.5 669V671M341.5 673V678M343.5 678V680M344.5 684V690M348.5 676V679M354.5 657V661M357.5 663V666M358.5 665V675M359.5 675V683M360.5 683V684M360.5 687V688M361.5 688V690M365.5 678V691M366.5 691V700M373.5 675V676M375.5 672V675M377.5 668V669M378.5 663V664M379.5 664V667M380.5 664V666M382.5 666V669M382.5 671V674M387.5 672V678M388.5 679V687M398.5 652V658M399.5 653V654M400.5 654V655M401.5 655V664M406.5 644V650M407.5 640V642M412.5 606V608M414.5 609V617M415.5 617V627M416.5 627V631M416.5 633V639M420.5 618V619M423.5 616V618M424.5 618V626M428.5 609V611M430.5 610V612M432.5 592V596M433.5 594V597M434.5 597V598M435.5 599V601M436.5 601V604M437.5 604V610M437.5 612V619M438.5 619V625M440.5 622V628M444.5 622V623M444.5 626V629M445.5 629V631M447.5 633V634M449.5 634V635M450.5 635V638M450.5 640V646M456.5 627V628M460.5 612V613M462.5 610V612M463.5 609V610M468.5 600V601M471.5 597V600M475.5 587V588M477.5 579V581M479.5 572V575M489.5 526V531M490.5 531V542M490.5 545V546M491.5 546V553M501.5 508V518M502.5 518V530M503.5 530V534M503.5 535V540M504.5 540V541M507.5 539V541M508.5 538V539M514.5 501V509M515.5 509V516M516.5 516V518M516.5 519V520M517.5 520V522M518.5 524V525M519.5 525V526M521.5 522V527M522.5 520V523M528.5 507V516M529.5 516V523M529.5 524V531M532.5 526V528M533.5 529V530M535.5 529V533M535.5 534V535M536.5 535V540M537.5 540V545M537.5 546V550M538.5 550V555M539.5 557V560M542.5 549V550M548.5 530V532M559.5 499V503M561.5 506V513M562.5 513V517M565.5 497V502M568.5 499V503M570.5 499V504M574.5 477V482M580.5 460V463M586.5 428V436M586.5 439V455M587.5 455V466M591.5 458V460M592.5 462V466M600.5 437V440M602.5 430V432M603.5 436V439M604.5 439V443M605.5 443V448M611.5 432V443M612.5 443V451M612.5 454V460M613.5 460V461M614.5 463V466M625.5 406V412M634.5 308V311M635.5 311V317M635.5 320V322M638.5 288V292M641.5 245V283M648.5 231V250M649.5 250V260M650.5 260V272M650.5 273V276M651.5 276V284M652.5 287V297M653.5 297V306M654.5 306V308M655.5 310V342M656.5 342V366M657.5 366V393M657.5 394V395M661.5 369V387M664.5 361V366M665.5 353V356M666.5 356V361M667.5 361V362M667.5 363V382M668.5 382V388M673.5 329V340M679.5 299V304M682.5 298V319M683.5 319V345M684.5 345V349M685.5 349V350M686.5 350V357M692.5 319V324M693.5 324V325M693.5 331V335M694.5 335V356M695.5 356V365M695.5 373V396M696.5 396V421M702.5 396V417M703.5 417V420M706.5 397V399M709.5 384V387M711.5 377V385M719.5 321V327M721.5 318V321M722.5 321V333M723.5 333V343M726.5 331V335M732.5 302V311M733.5 313V332M734.5 332V343M735.5 343V347M737.5 349V354M738.5 355V361M740.5 357V366M740.5 367V370M741.5 370V374M742.5 377V378M746.5 358V361M747.5 361V364M748.5 368V377M750.5 375V380M750.5 386V387M751.5 387V390M755.5 367V372M757.5 374V379M758.5 379V381M759.5 381V383M763.5 370V375M765.5 372V382M765.5 383V387M766.5 387V397M767.5 397V400M767.5 406V408M768.5 408V409M769.5 409V414M770.5 414V416M770.5 420V429M773.5 415V417M774.5 417V422M774.5 423V424M780.5 388V398M783.5 401V407M787.5 392V406M789.5 406V421M790.5 421V422M795.5 400V401M795.5 402V405M797.5 408V417M798.5 417V420M800.5 407V411M801.5 411V414M802.5 412V419M807.5 390V394M808.5 394V398M813.5 394V399M829.5 307V314M831.5 311V313M833.5 311V313M835.5 310V312M836.5 304V311M840.5 295V300M841.5 300V302M842.5 302V313M843.5 314V321M844.5 322V325M845.5 325V328M846.5 330V336M847.5 336V339M849.5 337V340M850.5 340V343M853.5 341V342M854.5 341V348M858.5 332V339M859.5 335V337M860.5 337V338M861.5 331V338M864.5 323V325M865.5 325V327M866.5 327V328M866.5 333V338M868.5 337V338M868.5 340V342M869.5 342V346M870.5 342V350M871.5 350V351M874.5 347V348M874.5 352V355M875.5 355V362M876.5 363V366M877.5 366V377M879.5 374V375M882.5 365V367M883.5 360V364M884.5 364V376M885.5 378V379M893.5 357V358M894.5 358V365M895.5 367V368M899.5 359V361M900.5 359V360M901.5 360V368M902.5 373V375M903.5 375V382M904.5 375V388M905.5 388V391M906.5 391V398M906.5 399V400M907.5 400V411M911.5 401V412M912.5 414V415M914.5 414V422M918.5 412V413M922.5 399V403M923.5 397V403M925.5 404V405M926.5 405V411M927.5 411V419M927.5 420V424M928.5 424V433M931.5 418V422M932.5 422V423M932.5 428V471M933.5 471V530M941.5 475V476M942.5 474V476M943.5 476V479M944.5 477V480M945.5 480V490M946.5 490V493M946.5 500V510M947.5 510V513M948.5 513V524M949.5 524V526M950.5 527V531M951.5 525V529M955.5 515V518M958.5 509V516M959.5 523V527M963.5 519V533M964.5 532V538M965.5 538V541M966.5 541V547M966.5 552V565M967.5 565V583M968.5 585V599M969.5 599V610M970.5 610V612M972.5 596V603M973.5 603V604M981.5 556V560M983.5 546V556M985.5 553V561M986.5 562V567M987.5 567V571M987.5 573V574M988.5 574V578M992.5 554V555M1000.5 505V510M1000.5 513V514M1002.5 516V521M1003.5 521V524M1004.5 524V525M1004.5 526V527M1005.5 527V533M1006.5 533V544M1007.5 544V552M1010.5 539V545M1011.5 545V549M1012.5 549V555M1013.5 554V559M1015.5 553V568M1016.5 568V577M1019.5 562V567M1019.5 568V574M1020.5 574V577M1022.5 579V588M1027.5 545V548M1029.5 541V544M1030.5 544V551M1030.5 553V561M1031.5 561V562M1033.5 561V565M1034.5 567V571M1035.5 571V577M1036.5 578V579M1038.5 578V582M1039.5 584V586M1040.5 586V596M1041.5 596V602M1043.5 601V602M1044.5 602V603M1045.5 606V614M1048.5 607V608M1051.5 600V603M1053.5 603V604M1053.5 606V610M1054.5 610V623M1055.5 623V625M1066.5 601V603M1069.5 600V602M1072.5 594V595M1075.5 592V594M1076.5 595V599M1089.5 551V553M1093.5 545V546M1098.5 524V531M1098.5 534V541M1099.5 541V551M1100.5 551V555M1100.5 557V560M1101.5 560V565M1102.5 565V566M1102.5 569V573M1103.5 573V578M1104.5 576V579M1108.5 566V567M1110.5 559V562M1111.5 559V563M1112.5 563V571M1113.5 570V573M1114.5 573V576M1118.5 574V577M1120.5 569V574M1122.5 569V572M1123.5 573V575M1125.5 571V575M1128.5 571V578M1130.5 578V579M1131.5 579V583M1132.5 583V589M1133.5 593V601M1135.5 597V601M1148.5 558V561M1154.5 551V556M1155.5 556V559M1155.5 564V569M1156.5 569V570M1158.5 564V569M1160.5 563V568M1161.5 568V574M1163.5 573V574M1165.5 571V572M1168.5 562V563M1168.5 565V567M1170.5 562V565M1171.5 566V570M1172.5 570V571M1173.5 574V575M1174.5 579V582M1176.5 579V581M1177.5 578V579M1178.5 579V583M1179.5 585V587M1180.5 587V588M1181.5 587V588M1181.5 591V595M1182.5 595V600M1184.5 599V603M1185.5 603V614M1187.5 610V611M1188.5 611V617M1190.5 617V620M1192.5 616V619M1193.5 619V620M1195.5 621V623M1196.5 621V623M1200.5 607V608M1204.5 598V603M1205.5 604V609M1206.5 609V615M1207.5 615V627M1208.5 627V631M1209.5 631V640M1209.5 641V649M1210.5 649V650M1211.5 650V652M1211.5 654V658M1218.5 631V633M1219.5 631V634M1221.5 626V634M1222.5 634V635M1225.5 619V623M1228.5 609V612M1229.5 612V622M1230.5 621V625M1231.5 625V631M1233.5 632V637M1236.5 632V634M1250.5 573V577M1251.5 578V580M1252.5 580V588M1253.5 586V587M1254.5 587V595M1256.5 596V599M1257.5 599V604M1258.5 604V605M1259.5 610V613M1260.5 613V614M1262.5 616V620M1262.5 623V625M1264.5 621V626M1267.5 622V625M1268.5 623V625M1269.5 625V627M1270.5 627V636M1270.5 637V640M1271.5 640V646M1272.5 646V647M1272.5 649V652M1274.5 648V651M1277.5 637V638M1282.5 622V625M1284.5 620V623M1285.5 623V628M1288.5 624V625M1292.5 626V627M1296.5 623V634M1297.5 634V638M1298.5 635V636M1300.5 633V634M1307.5 615V622M1307.5 623V625M1308.5 625V626M1309.5 626V629M1309.5 630V632M1310.5 632V633M1312.5 633V635M1313.5 635V636M1314.5 637V638M1316.5 639V640M1319.5 633V635M1322.5 629V631M1322.5 632V639M1323.5 639V640M1324.5 637V642M1326.5 641V642M1327.5 642V646M1328.5 644V647M1329.5 647V651M1330.5 649V654M1332.5 651V656M1333.5 656V657M1334.5 656V658M1334.5 659V668M1335.5 668V680M1336.5 682V684M1337.5 684V688M1339.5 685V686M1341.5 687V688M1341.5 689V690M1343.5 684V685M1344.5 684V685M1349.5 666V668M1353.5 648V655M1353.5 656V660M1354.5 660V662M1357.5 661V664M1358.5 664V667M1358.5 668V669M1360.5 667V672M1361.5 674V676M1367.5 659V662M1368.5 660V665M1370.5 662V664M1371.5 662V667M1377.5 643V645M1380.5 637V641M1381.5 642V643M1383.5 641V644M1384.5 644V646M1386.5 650V660M1388.5 660V667M1388.5 668V675M1389.5 675V682M1390.5 682V685M1390.5 686V688M1393.5 689V694M1396.5 691V694M1396.5 696V701M1399.5 701V704M1401.5 701V704M1406.5 696V698M1408.5 699V702M1410.5 699V703M1411.5 700V701M1413.5 696V697M1414.5 697V699M1418.5 686V689M1421.5 682V686M1422.5 685V691M1440.5 612V613M1444.5 605V606M1448.5 586V587M1449.5 587V589M1451.5 589V592M1451.5 594V595M1453.5 594V599M1454.5 602V607M1455.5 607V611M1456.5 612V616M1457.5 616V617M1462.5 610V611M1466.5 599V600M1467.5 601V606M1468.5 606V607M1472.5 597V600M1475.5 573V579M1476.5 579V583M1478.5 581V584M1481.5 582V583M1481.5 584V587M1483.5 586V587M1483.5 590V591M1484.5 591V595M1485.5 595V605M1486.5 609V614M1487.5 614V615M1498.5 576V582M1499.5 582V586M1500.5 586V587M1508.5 533V536M1509.5 536V541M1509.5 542V550M1511.5 549V552M1512.5 553V554M1516.5 555V556M1520.5 539V542M1522.5 540V543M1523.5 544V546M1525.5 545V546M1529.5 544V556M1531.5 553V560M1532.5 559V561M1534.5 560V563M1539.5 545V550M1539.5 552V555M1541.5 558V562M1543.5 557V558M1546.5 550V554M1547.5 554V556M1547.5 558V562M1549.5 560V568M1550.5 568V575M1550.5 576V578M1551.5 578V586M1552.5 586V587M1552.5 590V593M1554.5 592V595M1556.5 592V594M1559.5 590V591M1561.5 587V591M1562.5 583V586M1564.5 583V584M1569.5 568V597M1570.5 597V607M1571.5 607V614M1572.5 615V617M1573.5 616V618M1574.5 618V623M1575.5 626V631M1576.5 631V634M1577.5 635V637M1578.5 637V640M1580.5 639V646M1581.5 641V644M1582.5 644V649M1583.5 649V650M1584.5 653V656M1586.5 659V665M1588.5 666V668M1591.5 657V658M1592.5 650V651M1598.5 637V638M1601.5 622V624M1603.5 622V623M1604.5 623V624M1606.5 623V625M1607.5 625V626M1607.5 627V630M1613.5 607V610M1615.5 607V611M1616.5 609V610M1621.5 597V598M1622.5 601V602M1623.5 602V607M1624.5 607V613M1625.5 613V618M1627.5 621V623M1636.5 597V600M1638.5 596V598M1640.5 599V600M1641.5 594V595M1644.5 578V580M1646.5 578V579M1647.5 579V584M1648.5 583V587M1650.5 587V593M1651.5 593V594M1652.5 594V598M1652.5 600V606M1653.5 606V607M1654.5 607V610M1655.5 610V612M1656.5 612V614M1662.5 592V595M1665.5 592V595M1671.5 581V585M1672.5 585V591M1673.5 586V591M1675.5 591V593M1675.5 594V597M1678.5 594V597M1679.5 597V601M1681.5 600V604M1682.5 604V607M1683.5 607V609M1684.5 609V611M1684.5 613V615M1685.5 615V621M1693.5 596V598M1695.5 591V592M1698.5 587V591M1699.5 592V594M1703.5 581V582M1707.5 578V579M1717.5 544V551M1718.5 551V552M1719.5 554V557M1720.5 557V562M1721.5 562V566M1722.5 566V569M1724.5 567V571M1725.5 571V579M1726.5 578V586M1728.5 585V586M1729.5 586V587M1730.5 587V588M1734.5 571V574M1735.5 574V578M1736.5 578V582M1737.5 581V585M1738.5 585V587M1739.5 587V588M1744.5 584V585M1748.5 580V582M1750.5 579V582M1753.5 574V576M1754.5 574V578M1756.5 576V580M1756.5 581V584M1758.5 586V588M1759.5 588V592M1760.5 592V599M1772.5 561V563M1773.5 559V560M1774.5 560V562M1778.5 551V556M1782.5 541V545M1783.5 545V546M1784.5 546V547M1787.5 549V552M1788.5 552V556M1788.5 557V560M1789.5 560V561M1794.5 544V549M1796.5 551V556M1799.5 554V558M1803.5 553V554M1803.5 556V558M1804.5 558V559M1806.5 558V559M1807.5 559V560M1807.5 561V563M1812.5 546V551M1816.5 550V555M1822.5 545V551M1824.5 550V554M1825.5 554V555M1826.5 555V561M1829.5 563V565M1831.5 561V565M1834.5 560V561M1835.5 561V562M1835.5 564V571M1836.5 571V578M1840.5 570V572M1841.5 571V573" stroke="#ff0000"/>
</g>
<rect x="1857" y="568" width="54" height="14" fill="#0000ff" shape-rendering="crispEdges"/>
<path d="M1857 575.5H1860" stroke="#fff" shape-rendering="crispEdges"/>
<text class="w" x="1863" y="579">1293.41</text>
<text x="1862" y="75">2200.00</text>
<text x="1862" y="130">2100.00</text>
<text x="1862" y="186">2000.00</text>
<text x="1862" y="242">1900.00</text>
<text x="1862" y="297">1800.00</text>
<text x="1862" y="353">1700.00</text>
<text x="1862" y="409">1600.00</text>
<text x="1862" y="464">1500.00</text>
<text x="1862" y="520">1400.00</text>
<text x="1862" y="631">1200.00</text>
<text x="1862" y="687">1100.00</text>
<text x="1862" y="743">1000.00</text>
<text x="1862" y="798">900.00</text>
<text x="1862" y="854">800.00</text>
<text x="1862" y="910">700.00</text>
<text x="52.8" y="949" text-anchor="end">05</text><text x="55.1" y="949">08</text>
<text x="81.8" y="949" text-anchor="end">07</text><text x="84.1" y="949">08</text>
<text x="111.8" y="949" text-anchor="end">09</text><text x="114.1" y="949">08</text>
<text x="142.8" y="949" text-anchor="end">11</text><text x="145.1" y="949">08</text>
<text x="171.8" y="949" text-anchor="end">01</text><text x="174.1" y="949">09</text>
<text x="199.8" y="949" text-anchor="end">03</text><text x="202.1" y="949">09</text>
<text x="229.8" y="949" text-anchor="end">05</text><text x="232.1" y="949">09</text>
<text x="258.8" y="949" text-anchor="end">07</text><text x="261.1" y="949">09</text>
<text x="288.8" y="949" text-anchor="end">09</text><text x="291.1" y="949">09</text>
<text x="318.8" y="949" text-anchor="end">11</text><text x="321.1" y="949">09</text>
<text x="349.8" y="949" text-anchor="end">01</text><text x="352.1" y="949">10</text>
<text x="376.8" y="949" text-anchor="end">03</text><text x="379.1" y="949">10</text>
<text x="407.8" y="949" text-anchor="end">05</text><text x="410.1" y="949">10</text>
<text x="437.8" y="949" text-anchor="end">07</text><text x="440.1" y="949">10</text>
<text x="467.8" y="949" text-anchor="end">09</text><text x="470.1" y="949">10</text>
<text x="496.8" y="949" text-anchor="end">11</text><text x="499.1" y="949">10</text>
<text x="527.8" y="949" text-anchor="end">01</text><text x="530.1" y="949">11</text>
<text x="555.8" y="949" text-anchor="end">03</text><text x="558.1" y="949">11</text>
<text x="585.8" y="949" text-anchor="end">05</text><text x="588.1" y="949">11</text>
<text x="615.8" y="949" text-anchor="end">07</text><text x="618.1" y="949">11</text>
<text x="645.8" y="949" text-anchor="end">09</text><text x="648.1" y="949">11</text>
<text x="674.8" y="949" text-anchor="end">11</text><text x="677.1" y="949">11</text>
<text x="704.8" y="949" text-anchor="end">01</text><text x="707.1" y="949">12</text>
<text x="733.8" y="949" text-anchor="end">03</text><text x="736.1" y="949">12</text>
<text x="763.8" y="949" text-anchor="end">05</text><text x="766.1" y="949">12</text>
<text x="793.8" y="949" text-anchor="end">07</text><text x="796.1" y="949">12</text>
<text x="823.8" y="949" text-anchor="end">09</text><text x="826.1" y="949">12</text>
<text x="853.8" y="949" text-anchor="end">11</text><text x="856.1" y="949">12</text>
<text x="882.8" y="949" text-anchor="end">01</text><text x="885.1" y="949">13</text>
<text x="911.8" y="949" text-anchor="end">03</text><text x="914.1" y="949">13</text>
<text x="941.8" y="949" text-anchor="end">05</text><text x="944.1" y="949">13</text>
<text x="970.8" y="949" text-anchor="end">07</text><text x="973.1" y="949">13</text>
<text x="1001.8" y="949" text-anchor="end">09</text><text x="1004.1" y="949">13</text>
<text x="1031.8" y="949" text-anchor="end">11</text><text x="1034.1" y="949">13</text>
<text x="1060.8" y="949" text-anchor="end">01</text><text x="1063.1" y="949">14</text>
<text x="1089.8" y="949" text-anchor="end">03</text><text x="1092.1" y="949">14</text>
<text x="1119.8" y="949" text-anchor="end">05</text><text x="1122.1" y="949">14</text>
<text x="1148.8" y="949" text-anchor="end">07</text><text x="1151.1" y="949">14</text>
<text x="1178.8" y="949" text-anchor="end">09</text><text x="1181.1" y="949">14</text>
<text x="1209.8" y="949" text-anchor="end">11</text><text x="1212.1" y="949">14</text>
<text x="1238.8" y="949" text-anchor="end">01</text><text x="1241.1" y="949">15</text>
<text x="1267.8" y="949" text-anchor="end">03</text><text x="1270.1" y="949">15</text>
<text x="1297.8" y="949" text-anchor="end">05</text><text x="1300.1" y="949">15</text>
<text x="1326.8" y="949" text-anchor="end">07</text><text x="1329.1" y="949">15</text>
<text x="1356.8" y="949" text-anchor="end">09</text><text x="1359.1" y="949">15</text>
<text x="1386.8" y="949" text-anchor="end">11</text><text x="1389.1" y="949">15</text>
<text x="1416.8" y="949" text-anchor="end">01</text><text x="1419.1" y="949">16</text>
<text x="1444.8" y="949" text-anchor="end">03</text><text x="1447.1" y="949">16</text>
<text x="1474.8" y="949" text-anchor="end">05</text><text x="1477.1" y="949">16</text>
<text x="1504.8" y="949" text-anchor="end">07</text><text x="1507.1" y="949">16</text>
<text x="1534.8" y="949" text-anchor="end">09</text><text x="1537.1" y="949">16</text>
<text x="1563.8" y="949" text-anchor="end">11</text><text x="1566.1" y="949">16</text>
<text x="1593.8" y="949" text-anchor="end">01</text><text x="1596.1" y="949">17</text>
<text x="1622.8" y="949" text-anchor="end">03</text><text x="1625.1" y="949">17</text>
<text x="1651.8" y="949" text-anchor="end">05</text><text x="1654.1" y="949">17</text>
<text x="1682.8" y="949" text-anchor="end">07</text><text x="1685.1" y="949">17</text>
<text x="1712.8" y="949" text-anchor="end">09</text><text x="1715.1" y="949">17</text>
<text x="1742.8" y="949" text-anchor="end">11</text><text x="1745.1" y="949">17</text>
<text x="1770.8" y="949" text-anchor="end">01</text><text x="1773.1" y="949">18</text>
<text x="1799.8" y="949" text-anchor="end">03</text><text x="1802.1" y="949">18</text>
<text x="1827.8" y="949" text-anchor="end">05</text><text x="1830.1" y="949">18</text>
<text x="1846" y="949">-</text>
<text x="1863" y="949">04.06.18</text>
<text x="3" y="12">Max</text><text x="2" y="26">Tage</text>
<path d="M27 6h7l-3.5 4zM27 19h7l-3.5 4z" fill="#000"/>
<text x="39.5" y="12">Fr 25.01.2008</text><text x="39.5" y="26">Mo 04.06.2018</text>
<text x="137" y="11" text-anchor="middle">XAUUSD</text><text x="137" y="25" text-anchor="middle">USD</text>
<text x="164.5" y="14">Gold USD/Ounce</text>
<text x="1731.3" y="11" textLength="47.7">Rohstoffe</text><text x="1719.3" y="25" textLength="72.5">vwd Rohstoffe</text>
<text x="1798" y="11">H: 1921.18</text><text x="1798" y="25">L: 682.65</text>
<text x="1863" y="11">1293.41</text><text x="1862" y="25">41.6/379.9</text>
<text x="1859.5" y="41">(c)Tai-Pan</text>
<text class="b" x="7.0" y="43" textLength="114.1">Haftungsausschluss</text>
<text class="b" x="125.0" y="43" textLength="13.0">für</text>
<text class="b" x="141.9" y="43" textLength="39.9">Inhalte:</text>
<text class="b" x="184.6" y="43" textLength="20.0">Alle</text>
<text class="b" x="207.1" y="43" textLength="69.7">Trendkanäle</text>
<text class="b" x="280.6" y="43" textLength="23.0">bzw.</text>
<text class="b" x="307.5" y="43" textLength="38.8">andere</text>
<text class="b" x="349.7" y="43" textLength="36.1">Linien,</text>
<text class="b" x="389.1" y="43" textLength="24.5">oder</text>
<text class="b" x="416.9" y="43" textLength="46.4">Grafiken</text>
<text class="b" x="466.6" y="43" textLength="20.6">hier</text>
<text class="b" x="490.0" y="43" textLength="23.8">sind</text>
<text class="b" x="516.9" y="43" textLength="30.3">keine</text>
<text class="b" x="550.5" y="43" textLength="82.5">Empfehlungen,</text>
<text class="b" x="636.9" y="43" textLength="24.6">oder</text>
<text class="b" x="665.3" y="43" textLength="51.8">Beratung,</text>
<text class="b" x="720.9" y="43" textLength="46.2">sondern</text>
<text class="b" x="770.0" y="43" textLength="16.4">die</text>
<text class="b" x="789.2" y="43" textLength="36.5">zeigen</text>
<text class="b" x="829.0" y="43" textLength="80.6">ausschließlich</text>
<text class="b" x="913.4" y="43" textLength="34.1">meine</text>
<text class="b" x="950.8" y="43" textLength="37.3">eigene</text>
<text class="b" x="991.6" y="43" textLength="49.1">Meinung.</text>
<text class="b" x="1044.2" y="43" textLength="20.0">Alle</text>
<text class="b" x="1067.8" y="43" textLength="60.4">Chartdaten</text>
<text class="b" x="1131.8" y="43" textLength="24.1">sind</text>
<text class="b" x="1158.8" y="43" textLength="27.0">ohne</text>
<text class="b" x="1189.9" y="43" textLength="45.4">Gewähr.</text>
<text class="b" x="1241.9" y="43" textLength="245.9">www.wikifolio.com/de/de/p/cyberwaehrungen</text>
<path d="M0 .5H1912M.5 0V952M1911.5 0V952M0 951.5H1912" stroke="#000" stroke-width="1" shape-rendering="crispEdges" fill="none"/>
<path d="M1842.5 938V952M53.5 938V952M82.5 938V952M112.5 938V952M143.5 938V952M172.5 938V952M200.5 938V952M230.5 938V952M259.5 938V952M289.5 938V952M319.5 938V952M350.5 938V952M377.5 938V952M408.5 938V952M438.5 938V952M468.5 938V952M497.5 938V952M528.5 938V952M556.5 938V952M586.5 938V952M616.5 938V952M646.5 938V952M675.5 938V952M705.5 938V952M734.5 938V952M764.5 938V952M794.5 938V952M824.5 938V952M854.5 938V952M883.5 938V952M912.5 938V952M942.5 938V952M971.5 938V952M1002.5 938V952M1032.5 938V952M1061.5 938V952M1090.5 938V952M1120.5 938V952M1149.5 938V952M1179.5 938V952M1210.5 938V952M1239.5 938V952M1268.5 938V952M1298.5 938V952M1327.5 938V952M1357.5 938V952M1387.5 938V952M1417.5 938V952M1445.5 938V952M1475.5 938V952M1505.5 938V952M1535.5 938V952M1564.5 938V952M1594.5 938V952M1623.5 938V952M1652.5 938V952M1683.5 938V952M1713.5 938V952M1743.5 938V952M1771.5 938V952M1800.5 938V952M1828.5 938V952" stroke="#b9ffb9" stroke-width="1" shape-rendering="crispEdges" fill="none"/>
</svg></body></html>
